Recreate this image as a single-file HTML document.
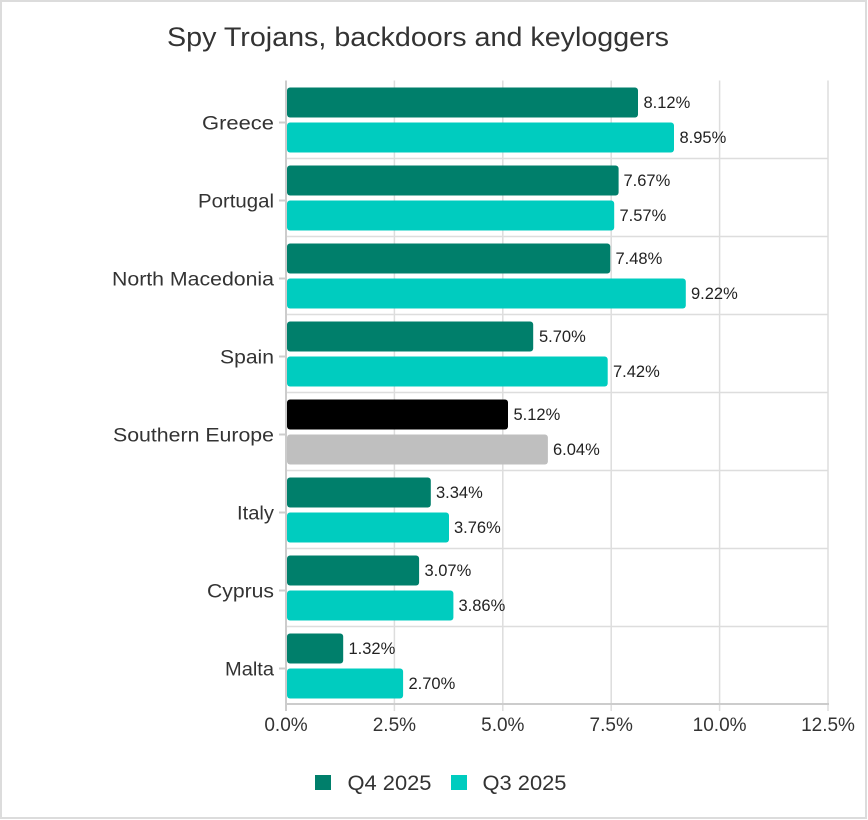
<!DOCTYPE html>
<html><head><meta charset="utf-8"><style>
html,body{margin:0;padding:0;background:#fff;}
svg{display:block;}
text{font-family:"Liberation Sans",sans-serif;}
</style></head><body>
<svg width="868" height="820" viewBox="0 0 868 820" xmlns="http://www.w3.org/2000/svg">
<rect x="1" y="1" width="865" height="817" fill="#fff" stroke="#dcdcdc" stroke-width="2"/>
<text x="418" y="46" font-size="27" fill="#333" text-anchor="middle" textLength="502" lengthAdjust="spacingAndGlyphs">Spy Trojans, backdoors and keyloggers</text>
<g stroke="#dddddd" stroke-width="1.5">
<line x1="394.4" y1="80.5" x2="394.4" y2="711"/>
<line x1="502.8" y1="80.5" x2="502.8" y2="711"/>
<line x1="611.2" y1="80.5" x2="611.2" y2="711"/>
<line x1="719.6" y1="80.5" x2="719.6" y2="711"/>
<line x1="828" y1="80.5" x2="828" y2="711"/>
<line x1="286" y1="158.5" x2="828" y2="158.5"/>
<line x1="286" y1="236.5" x2="828" y2="236.5"/>
<line x1="286" y1="314.5" x2="828" y2="314.5"/>
<line x1="286" y1="392.5" x2="828" y2="392.5"/>
<line x1="286" y1="470.5" x2="828" y2="470.5"/>
<line x1="286" y1="548.5" x2="828" y2="548.5"/>
<line x1="286" y1="626.5" x2="828" y2="626.5"/>
</g>
<g stroke="#cccccc" stroke-width="2">
<line x1="286" y1="80.5" x2="286" y2="711"/>
<line x1="286" y1="704" x2="829" y2="704"/>
<line x1="279" y1="122.5" x2="286" y2="122.5"/>
<line x1="279" y1="200.5" x2="286" y2="200.5"/>
<line x1="279" y1="278.5" x2="286" y2="278.5"/>
<line x1="279" y1="356.5" x2="286" y2="356.5"/>
<line x1="279" y1="434.5" x2="286" y2="434.5"/>
<line x1="279" y1="512.5" x2="286" y2="512.5"/>
<line x1="279" y1="590.5" x2="286" y2="590.5"/>
<line x1="279" y1="668.5" x2="286" y2="668.5"/>
</g>
<!-- bars -->
<g>
<rect x="287" y="87.5" width="351" height="30" rx="3" fill="#007f6b"/>
<rect x="287" y="122.5" width="387" height="30" rx="3" fill="#00ccbf"/>
<rect x="287" y="165.5" width="331.6" height="30" rx="3" fill="#007f6b"/>
<rect x="287" y="200.5" width="327.2" height="30" rx="3" fill="#00ccbf"/>
<rect x="287" y="243.5" width="323.3" height="30" rx="3" fill="#007f6b"/>
<rect x="287" y="278.5" width="398.8" height="30" rx="3" fill="#00ccbf"/>
<rect x="287" y="321.5" width="246.2" height="30" rx="3" fill="#007f6b"/>
<rect x="287" y="356.5" width="320.7" height="30" rx="3" fill="#00ccbf"/>
<rect x="287" y="399.5" width="221" height="30" rx="3" fill="#000000"/>
<rect x="287" y="434.5" width="260.9" height="30" rx="3" fill="#bfbfbf"/>
<rect x="287" y="477.5" width="143.8" height="30" rx="3" fill="#007f6b"/>
<rect x="287" y="512.5" width="162" height="30" rx="3" fill="#00ccbf"/>
<rect x="287" y="555.5" width="132.1" height="30" rx="3" fill="#007f6b"/>
<rect x="287" y="590.5" width="166.4" height="30" rx="3" fill="#00ccbf"/>
<rect x="287" y="633.5" width="56.2" height="30" rx="3" fill="#007f6b"/>
<rect x="287" y="668.5" width="116.1" height="30" rx="3" fill="#00ccbf"/>
</g>
<!-- value labels -->
<g font-size="16.5" fill="#222">
<text x="643.5" y="108">8.12%</text>
<text x="679.5" y="143">8.95%</text>
<text x="623.5" y="186">7.67%</text>
<text x="619.5" y="221">7.57%</text>
<text x="615.5" y="264">7.48%</text>
<text x="691" y="299">9.22%</text>
<text x="539" y="342">5.70%</text>
<text x="613" y="377">7.42%</text>
<text x="513.5" y="420">5.12%</text>
<text x="553" y="455">6.04%</text>
<text x="436" y="498">3.34%</text>
<text x="454" y="533">3.76%</text>
<text x="424.5" y="576">3.07%</text>
<text x="458.5" y="611">3.86%</text>
<text x="348.5" y="654">1.32%</text>
<text x="408.5" y="689">2.70%</text>
</g>
<!-- category labels -->
<g font-size="19" fill="#333" text-anchor="end">
<text x="274" y="129.5" textLength="72" lengthAdjust="spacingAndGlyphs">Greece</text>
<text x="274" y="207.5" textLength="76" lengthAdjust="spacingAndGlyphs">Portugal</text>
<text x="274" y="285.5" textLength="162" lengthAdjust="spacingAndGlyphs">North Macedonia</text>
<text x="274" y="363.5" textLength="54" lengthAdjust="spacingAndGlyphs">Spain</text>
<text x="274" y="441.5" textLength="161" lengthAdjust="spacingAndGlyphs">Southern Europe</text>
<text x="274" y="519.5" textLength="37" lengthAdjust="spacingAndGlyphs">Italy</text>
<text x="274" y="597.5" textLength="67" lengthAdjust="spacingAndGlyphs">Cyprus</text>
<text x="274" y="675.5" textLength="49" lengthAdjust="spacingAndGlyphs">Malta</text>
</g>
<!-- tick labels -->
<g font-size="19" fill="#333" text-anchor="middle">
<text x="286" y="731">0.0%</text>
<text x="394.4" y="731">2.5%</text>
<text x="502.8" y="731">5.0%</text>
<text x="611.2" y="731">7.5%</text>
<text x="719.6" y="731">10.0%</text>
<text x="828" y="731">12.5%</text>
</g>
<!-- legend -->
<rect x="315" y="775" width="16" height="15" fill="#007f6b"/>
<text x="347.5" y="790" font-size="21" fill="#333" textLength="84" lengthAdjust="spacingAndGlyphs">Q4 2025</text>
<rect x="451" y="775" width="16" height="15" fill="#00ccbf"/>
<text x="482.5" y="790" font-size="21" fill="#333" textLength="84" lengthAdjust="spacingAndGlyphs">Q3 2025</text>
</svg>
</body></html>
